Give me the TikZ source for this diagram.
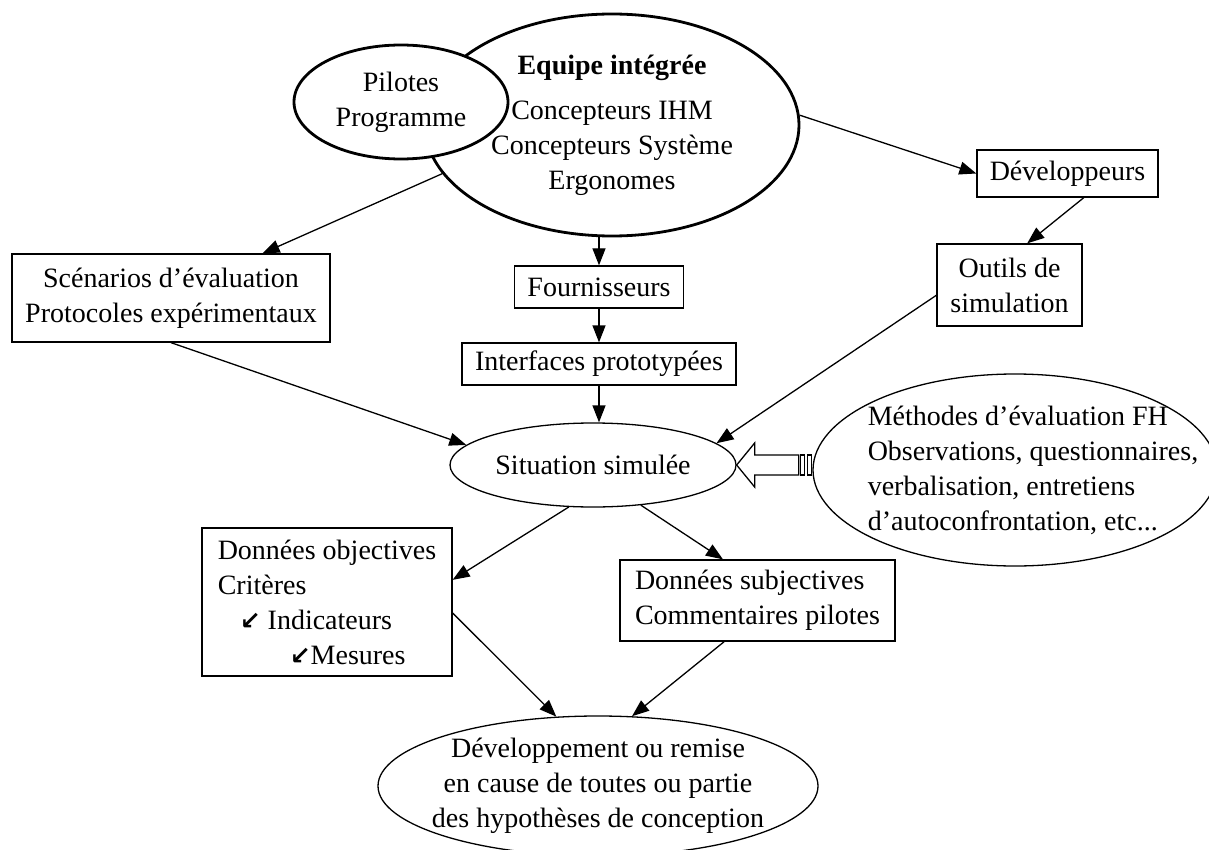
\documentclass[tikz,border=0pt]{standalone}
\usepackage{fontspec}
\setmainfont{Liberation Serif}
\newfontfamily\arrowfont{DejaVu Sans}
\usetikzlibrary{arrows.meta,shapes.geometric}

\newcommand\sw{{\arrowfont\bfseries\fontsize{25}{35}\selectfont ↙}}

\tikzset{
  box/.style={draw, line width=1.3pt, align=center, inner sep=0pt},
  oval/.style={draw, ellipse, line width=1.3pt, align=center, inner xsep=-14pt, inner ysep=-10pt},
  thickoval/.style={oval, line width=2.8pt},
  arr/.style={-{Triangle[length=17pt,width=13pt]}, line width=1.3pt}
}

\begin{document}
\begin{tikzpicture}[x=1pt, y=-1pt, font=\fontsize{28}{35}\selectfont]
    \useasboundingbox (0,0) rectangle (1209,850);

    % team ovals
    \node[thickoval, minimum width=374pt, minimum height=222pt] (team) at (612,125) {\textbf{Equipe intégrée}\\[10pt] Concepteurs IHM\\ Concepteurs Système\\ Ergonomes};
    \node[thickoval, fill=white, minimum width=214pt, minimum height=114pt] (pilots) at (401,102) {Pilotes\\ Programme};

    % boxes
    \node[box, minimum width=181pt, minimum height=47pt] (dev) at (1067.5,173.5) {Développeurs};
    \node[box, minimum width=145pt, minimum height=82pt] (tools) at (1009.5,285) {Outils de\\ simulation};
    \node[box, minimum width=318pt, minimum height=88pt] (scen) at (171,298) {Scénarios d’évaluation\\ Protocoles expérimentaux};
    \node[box, minimum width=169pt, minimum height=42pt] (suppl) at (599,287) {Fournisseurs};
    \node[box, minimum width=274pt, minimum height=42pt] (proto) at (599,364) {Interfaces prototypées};

    \node[oval, minimum width=286pt, minimum height=84pt] (sim) at (593,465) {Situation simulée};
    \node[oval, minimum width=404pt, minimum height=192pt] (meth) at (1015,470) {};
    \node[align=left] (methtext) at (1033,470) {Méthodes d’évaluation FH\\ Observations, questionnaires,\\ verbalisation, entretiens\\ d’autoconfrontation, etc...};

    \node[box, align=left, minimum width=250pt, minimum height=148pt] (objdata) at (327,602) {Données objectives\\ Critères\\ \hspace*{22pt}\sw\ Indicateurs\\ \hspace*{72pt}\sw Mesures};
    \node[box, align=left, minimum width=275pt, minimum height=81pt] (subjdata) at (757.5,600.5) {Données subjectives\\ Commentaires pilotes};

    \node[oval, minimum width=440pt, minimum height=140pt] (outcome) at (598,786) {Développement ou remise\\ en cause de toutes ou partie\\ des hypothèses de conception};

    % connectors
    \draw[arr] (team.3) -- (dev.west);
    \draw[arr] (team.196) -- (scen.26);
    \draw[arr] (team.south -| suppl.north) -- (suppl.north);
    \draw[arr] (suppl) -- (proto);
    \draw[arr] (proto.south) -- (proto.south |- sim.north);
    \draw[arr] (dev.-56) -- (tools.67);
    \draw[arr] (scen.south) -- (sim.171);
    \draw[arr] (tools.188) -- (sim.10);
    \draw[arr] (sim.240) -- (objdata.10);
    \draw[arr] (sim.-40) -- (subjdata.130);
    \draw[arr] (objdata.-5) -- (outcome.121);
    \draw[arr] (subjdata.231) -- (outcome.64);

    % hollow arrow from methods to situation
    \draw[line width=1.3pt, fill=white] (sim.east) -- ++(18,-22) -- ++(0,12) -- ++(44,0) -- ++(0,20) -- ++(-44,0) -- ++(0,12) -- cycle;
    \draw[line width=1.1pt] (sim.east) ++(64,-10) rectangle ++(4,20);
    \draw[line width=1.1pt] (sim.east) ++(71,-10) rectangle ++(4,20);
\end{tikzpicture}
\end{document}
